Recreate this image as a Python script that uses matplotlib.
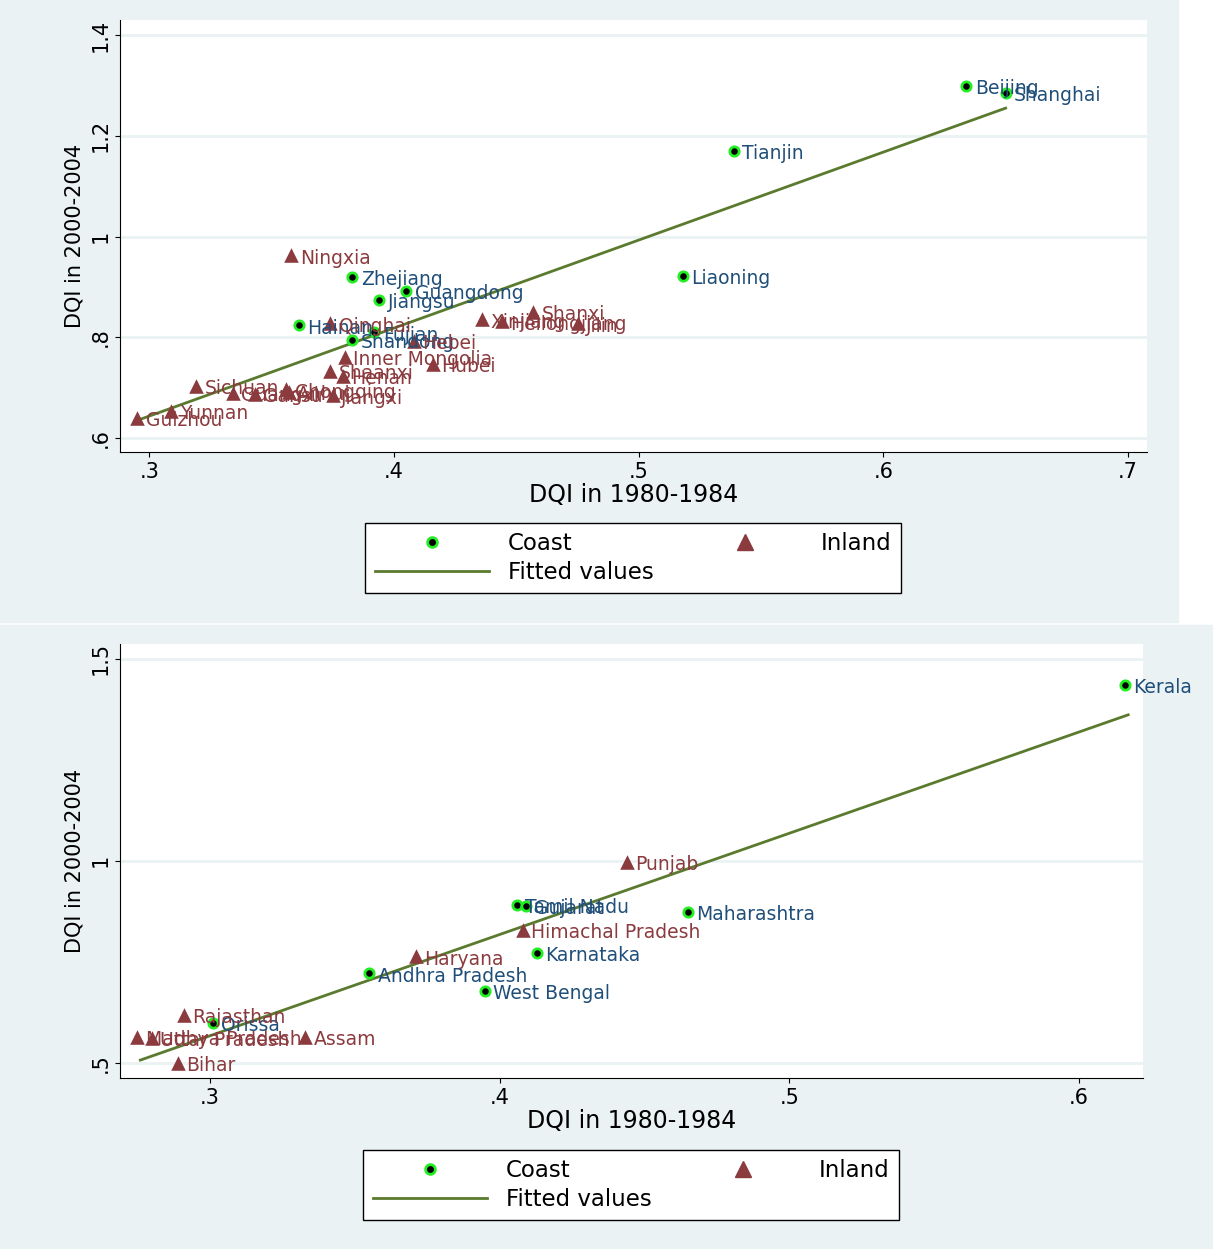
import numpy as np
import matplotlib.pyplot as plt
from matplotlib.patches import Rectangle
from matplotlib.lines import Line2D

plt.rcParams['font.family'] = ['DejaVu Sans']

# China provinces
cn_coast = ["Beijing", "Shanghai", "Tianjin", "Liaoning", "Zhejiang", "Guangdong",
            "Jiangsu", "Hainan", "Fujian", "Shandong"]
cn_coast_x = [0.634, 0.650, 0.539, 0.518, 0.383, 0.405, 0.394, 0.361, 0.392, 0.383]
cn_coast_y = [1.299, 1.285, 1.170, 0.922, 0.920, 0.892, 0.874, 0.824, 0.810, 0.795]
cn_inland = ["Ningxia", "Qinghai", "Hebei", "Inner Mongolia", "Hubei", "Shaanxi", "Henan",
             "Shanxi", "Xinjiang", "Heilongjiang", "Jilin", "Sichuan", "Chongqing",
             "Guangxi", "Gansu", "Anhui", "Jiangxi", "Yunnan", "Guizhou"]
cn_inland_x = [0.358, 0.374, 0.408, 0.380, 0.416, 0.374, 0.379, 0.457, 0.436, 0.444, 0.475,
               0.319, 0.356, 0.334, 0.343, 0.357, 0.375, 0.309, 0.295]
cn_inland_y = [0.963, 0.828, 0.793, 0.761, 0.747, 0.733, 0.723, 0.850, 0.836, 0.832, 0.828,
               0.703, 0.697, 0.690, 0.688, 0.692, 0.685, 0.654, 0.640]
cn_fit_x = [0.295, 0.650]
cn_fit_y = [0.635, 1.255]

# India states
in_coast = ["Kerala", "Tamil Nadu", "Gujarat", "Maharashtra", "Karnataka",
            "Andhra Pradesh", "West Bengal", "Orissa"]
in_coast_x = [0.616, 0.406, 0.409, 0.465, 0.413, 0.355, 0.395, 0.301]
in_coast_y = [1.436, 0.891, 0.889, 0.874, 0.772, 0.722, 0.678, 0.599]
in_inland = ["Punjab", "Himachal Pradesh", "Haryana", "Rajasthan", "Madhya Pradesh",
             "Uttar Pradesh", "Assam", "Bihar"]
in_inland_x = [0.444, 0.408, 0.371, 0.291, 0.275, 0.280, 0.333, 0.289]
in_inland_y = [0.998, 0.829, 0.764, 0.619, 0.564, 0.562, 0.564, 0.500]
in_fit_x = [0.276, 0.617]
in_fit_y = [0.507, 1.361]

BG = "#EAF2F3"
BLUE = "#1F4E79"
RED = "#8B3A3E"
FIT = "#5A7A2E"

fig = plt.figure(figsize=(12.13, 12.49), dpi=100, facecolor="white")
fig.patches.append(Rectangle((0, 1 - 622 / 1249), 1178 / 1213, 622 / 1249,
                             transform=fig.transFigure, color=BG, zorder=-10))
fig.patches.append(Rectangle((0, 0), 1, 624 / 1249,
                             transform=fig.transFigure, color=BG, zorder=-10))


def panel(rect, cx, cy, cn, ix, iy, inames, fx, fy, xlim, ylim, xt, xtl, yt, ytl, legpos):
    ax = fig.add_axes(rect)
    ax.set_facecolor("white")
    ax.plot(fx, fy, color=FIT, lw=2, zorder=2)
    ax.scatter(cx, cy, s=45, c="black", edgecolors="#22EE22", linewidths=2, zorder=3)
    ax.scatter(ix, iy, s=110, marker="^", c=RED, linewidths=0, zorder=3)
    for x, y, n in zip(cx, cy, cn):
        ax.annotate(n, (x, y), xytext=(6, -6), textcoords="offset points",
                    color=BLUE, fontsize=13.5, zorder=4)
    for x, y, n in zip(ix, iy, inames):
        ax.annotate(n, (x, y), xytext=(6, -6), textcoords="offset points",
                    color=RED, fontsize=13.5, zorder=4)
    ax.set_xlim(xlim)
    ax.set_ylim(ylim)
    ax.set_xticks(xt, xtl, fontsize=15)
    ax.set_yticks(yt, ytl, fontsize=15, rotation=90, va="center")
    ax.grid(axis="y", color=BG, lw=2)
    ax.set_axisbelow(True)
    for s in ["top", "right"]:
        ax.spines[s].set_visible(False)
    ax.set_xlabel("DQI in 1980-1984", fontsize=17, labelpad=1)
    ax.set_ylabel("DQI in 2000-2004", fontsize=15)
    h = [Line2D([], [], ls="", marker="o", mfc="black", mec="#22EE22", mew=2, ms=7),
         Line2D([], [], color=FIT, lw=2),
         Line2D([], [], ls="", marker="^", color=RED, ms=11)]
    leg = fig.legend(h, ["Coast", "Fitted values", "Inland"], ncol=2,
                     loc="center", bbox_to_anchor=legpos, fontsize=16.5,
                     fancybox=False, edgecolor="black", framealpha=1,
                     handlelength=5, columnspacing=1.5, borderpad=0.4,
                     labelspacing=0.25)
    leg.get_frame().set_linewidth(1)
    return ax


panel([0.099, 0.638, 0.847, 0.346], cn_coast_x, cn_coast_y, cn_coast,
      cn_inland_x, cn_inland_y, cn_inland, cn_fit_x, cn_fit_y,
      (0.288, 0.708), (0.572, 1.43),
      [0.3, 0.4, 0.5, 0.6, 0.7], [".3", ".4", ".5", ".6", ".7"],
      [0.6, 0.8, 1.0, 1.2, 1.4], [".6", ".8", "1", "1.2", "1.4"],
      (633 / 1213, 1 - 558 / 1249))

panel([0.099, 0.137, 0.843, 0.347], in_coast_x, in_coast_y, in_coast,
      in_inland_x, in_inland_y, in_inland, in_fit_x, in_fit_y,
      (0.269, 0.622), (0.463, 1.535),
      [0.3, 0.4, 0.5, 0.6], [".3", ".4", ".5", ".6"],
      [0.5, 1.0, 1.5], [".5", "1", "1.5"],
      (631 / 1213, 1 - 1185 / 1249))

fig.savefig("out.png", dpi=100, facecolor="white")
